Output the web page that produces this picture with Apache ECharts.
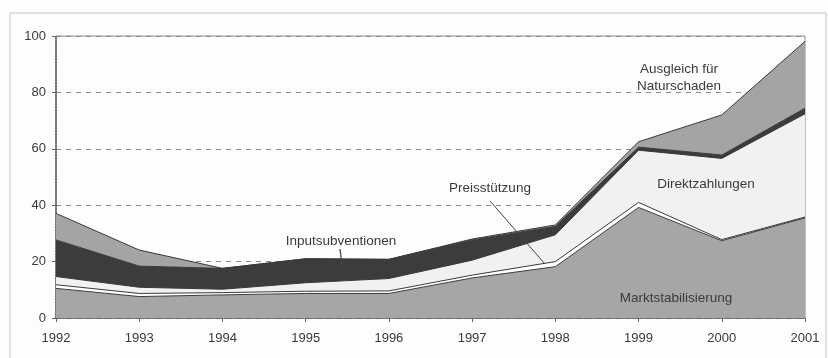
<!DOCTYPE html>
<html>
<head>
<meta charset="utf-8">
<script src="https://cdn.jsdelivr.net/npm/echarts@6/dist/echarts.min.js"></script>
<style>
  html, body { margin: 0; padding: 0; background: #fdfdfd; }
  #chart { width: 828px; height: 358px; }
</style>
</head>
<body>
<div id="chart"></div>
<script>
// years on the x axis
var years = ['1992', '1993', '1994', '1995', '1996', '1997', '1998', '1999', '2000', '2001'];

// stacked layers, bottom to top
var marktstabilisierung = [10.5, 7.6, 8.2, 8.7, 8.7, 14.2, 18.2, 39.2, 27.4, 35.5];
var preisstuetzung      = [1.3, 1.1, 0.8, 0.8, 0.9, 1.0, 1.8, 1.8, 0.4, 0.3];
var direktzahlungen     = [2.9, 2.2, 1.2, 3.0, 4.4, 5.3, 9.5, 18.5, 28.8, 36.6];
var inputsubventionen   = [13.0, 7.5, 7.4, 8.5, 6.8, 7.2, 3.0, 1.1, 1.2, 2.0];
var ausgleich           = [9.4, 5.7, 0, 0, 0, 0.3, 0.5, 1.9, 14.2, 23.7];

var yTicks = [0, 20, 40, 60, 80, 100];

function PolicyChart(divId) {
	var myChart = echarts.init(document.getElementById(divId));
	var chartOption;
	var textColor = '#3a3a3a';
	var font = '"Liberation Sans", Arial, sans-serif';

	function layer(name, data, fill) {
		return {
			name: name,
			type: 'line',
			stack: 'total',
			data: data,
			symbol: 'none',
			lineStyle: { color: '#3a3a3a', width: 1 },
			areaStyle: { color: fill, opacity: 1 },
			z: 2
		};
	}

	function label(text, x, y) {
		return {
			type: 'text',
			x: x,
			y: y,
			style: {
				text: text,
				fill: textColor,
				font: '13.5px ' + font,
				align: 'center',
				verticalAlign: 'middle',
				lineHeight: 17
			},
			z: 10
		};
	}

	function initOption() {
		chartOption = {
			animation: false,
			backgroundColor: '#fdfdfd',
			grid: {
				left: 56, right: 23, top: 36, bottom: 40,
				show: true, borderColor: '#8a8a8a', borderWidth: 1
			},
			xAxis: {
				type: 'category',
				data: years,
				boundaryGap: false,
				axisLine: { lineStyle: { color: '#555', type: 'dotted', width: 1.5 } },
				axisTick: { show: true, length: 4, lineStyle: { color: '#666' } },
				axisLabel: { color: textColor, fontSize: 13, fontFamily: font, margin: 14 }
			},
			yAxis: {
				type: 'value',
				min: yTicks[0],
				max: yTicks[yTicks.length - 1],
				interval: 20,
				axisLine: { show: true, lineStyle: { color: '#555', type: 'dotted', width: 1.5 } },
				axisTick: { show: true, length: 4, lineStyle: { color: '#666' } },
				axisLabel: { color: textColor, fontSize: 13, fontFamily: font, margin: 10 },
				splitLine: { show: true, lineStyle: { color: '#8a8a8a', type: [5, 5], width: 1 } }
			},
			series: [
				layer('Marktstabilisierung', marktstabilisierung, '#a6a6a6'),
				layer('Preisstützung', preisstuetzung, '#ffffff'),
				layer('Direktzahlungen', direktzahlungen, '#f1f1f1'),
				layer('Inputsubventionen', inputsubventionen, '#3c3c3c'),
				layer('Ausgleich für Naturschaden', ausgleich, '#a4a4a4')
			],
			graphic: [
				{
					type: 'rect',
					shape: { x: 10, y: 13, width: 816, height: 350 },
					style: { fill: 'none', stroke: '#c4c4c4', lineWidth: 1 },
					silent: true,
					z: -1
				},
				label('Ausgleich für\nNaturschaden', 679, 78),
				label('Direktzahlungen', 706, 184),
				label('Preisstützung', 490, 188),
				label('Inputsubventionen', 341, 241),
				label('Marktstabilisierung', 676, 298),
				{
					type: 'line',
					shape: { x1: 490, y1: 201, x2: 545, y2: 264 },
					style: { stroke: '#444', lineWidth: 1 },
					z: 10
				},
				{
					type: 'line',
					shape: { x1: 340, y1: 249, x2: 342, y2: 265 },
					style: { stroke: '#444', lineWidth: 1.2 },
					z: 10
				}
			]
		};
	}

	this.draw = function() {
		myChart.setOption(chartOption);
	};

	initOption();
}

var chart = new PolicyChart('chart');
chart.draw();
</script>
</body>
</html>
